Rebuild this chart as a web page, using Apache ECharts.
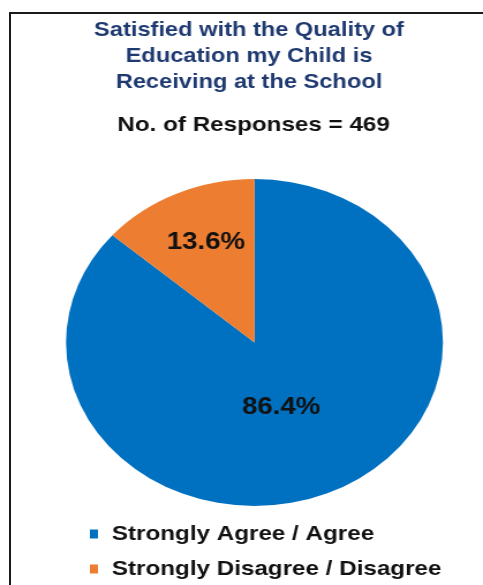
<!DOCTYPE html>
<html>
<head>
<meta charset="utf-8">
<script src="https://cdn.jsdelivr.net/npm/echarts@6/dist/echarts.min.js"></script>
<style>
  html, body { margin: 0; padding: 0; background: #fff; overflow: hidden; }
  #wrap { position: relative; width: 483px; height: 585px; overflow: hidden; }
  #frame { position: absolute; left: 9px; top: 12px; width: 600px; height: 700px;
           border-left: 2px solid #1a1a1a; border-top: 2px solid #1a1a1a; }
  #chart { position: absolute; left: 0; top: 0; width: 419px; height: 585px;
           transform-origin: 0 0; transform: scaleX(1.1527); }
</style>
</head>
<body>
<div id="wrap">
  <div id="frame"></div>
  <div id="chart"></div>
</div>
<script>
const titleText = 'Satisfied with the Quality of\nEducation my Child is\nReceiving at the School';
const subtitleText = 'No. of Responses = 469';
const categories = ['Strongly Agree / Agree', 'Strongly Disagree / Disagree'];
const values = [86.4, 13.6];
const colors = ['#0070C0', '#ED7D31'];

const chart = echarts.init(document.getElementById('chart'), null, { renderer: 'canvas' });
const font = '"Liberation Sans", Arial, sans-serif';
const labelShift = [[-12, -12], [-7, -23]];

chart.setOption({
  animation: false,
  title: [
    {
      text: titleText,
      left: 216, top: 17, textAlign: 'center',
      textStyle: { fontFamily: font, fontSize: 20.5, fontWeight: 'bold', color: '#1F3A70', lineHeight: 26 },
      padding: 0
    },
    {
      text: subtitleText,
      left: 220, top: 113, textAlign: 'center',
      textStyle: { fontFamily: font, fontSize: 21, fontWeight: 'bold', color: '#111', lineHeight: 24 },
      padding: 0
    }
  ],
  legend: {
    orient: 'vertical',
    left: 78, top: 522,
    itemWidth: 7, itemHeight: 9,
    itemGap: 11,
    icon: 'rect',
    padding: 0,
    data: categories,
    textStyle: { fontFamily: font, fontSize: 21, fontWeight: 'bold', color: '#111', lineHeight: 24, padding: [0, 0, 0, 7] }
  },
  series: [{
    type: 'pie',
    center: [220.8, 342.5],
    radius: [0, 163.5],
    startAngle: 90,
    clockwise: true,
    silent: true,
    label: {
      show: true, position: 'inside',
      formatter: p => p.value.toFixed(1) + '%',
      fontFamily: font, fontSize: 24, fontWeight: 'bold', color: '#111'
    },
    labelLine: { show: false },
    labelLayout: p => ({ dx: labelShift[p.dataIndex][0], dy: labelShift[p.dataIndex][1] }),
    itemStyle: { borderWidth: 0 },
    emphasis: { disabled: true },
    data: categories.map((c, i) => ({ name: c, value: values[i], itemStyle: { color: colors[i] } }))
  }]
});
</script>
</body>
</html>
